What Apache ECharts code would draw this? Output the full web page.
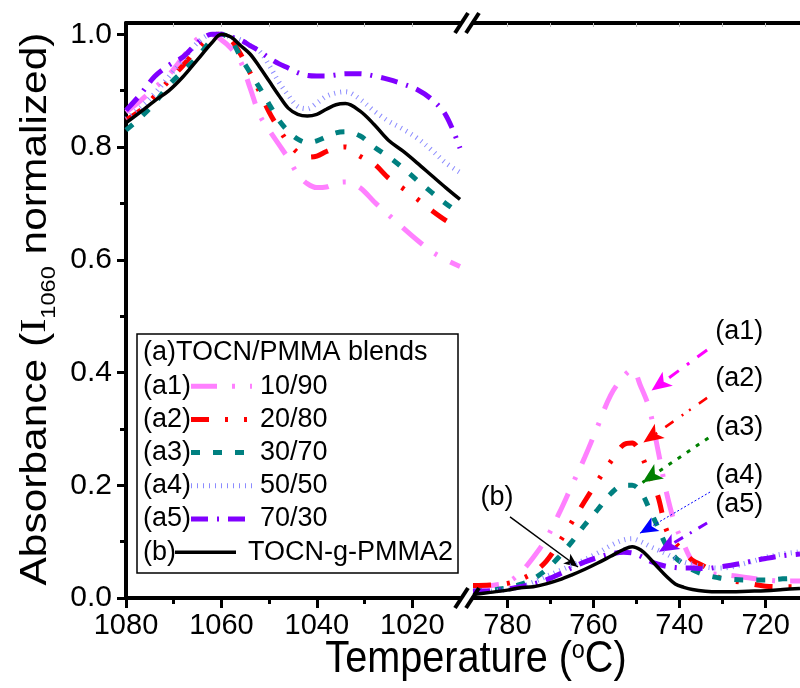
<!DOCTYPE html>
<html><head><meta charset="utf-8">
<script src="https://cdn.jsdelivr.net/npm/echarts@6/dist/echarts.min.js"></script>
<style>html,body{margin:0;padding:0;background:#fff}#c{width:800px;height:688px}</style>
</head><body><div id="c"></div>
<script>
// ---------- data ----------
const leftT  = [1080,1077,1074,1071,1068,1065,1062,1060,1058,1056,1054,1052,1050,1048,1046,1044,1042,1040,1038,1036,1034,1031,1028,1025,1022,1019,1016,1013,1010];
const a1L = [.862,.882,.905,.928,.960,.992,.999,.990,.975,.952,.905,.857,.830,.805,.780,.752,.735,.728,.729,.736,.738,.728,.703,.680,.657,.635,.615,.600,.588];
const a2L = [.848,.865,.890,.918,.945,.975,.997,1.0,.990,.965,.932,.898,.862,.833,.808,.790,.782,.784,.792,.798,.800,.784,.770,.745,.727,.708,.688,.670,.656];
const a3L = [.830,.852,.878,.910,.935,.960,.990,1.0,.990,.960,.932,.905,.876,.848,.828,.814,.808,.811,.818,.825,.827,.820,.800,.783,.763,.741,.720,.700,.682];
const a4L = [.850,.870,.895,.925,.955,.985,1.0,1.0,.995,.990,.980,.970,.945,.916,.892,.872,.868,.878,.890,.896,.898,.885,.864,.846,.832,.816,.795,.772,.755];
const a5L = [.865,.893,.925,.945,.960,.985,1.0,1.0,.995,.990,.980,.970,.958,.948,.940,.932,.927,.926,.926,.928,.930,.930,.926,.920,.912,.902,.885,.857,.798];
const bL  = [.843,.862,.882,.900,.925,.955,.985,1.0,.995,.980,.965,.942,.917,.892,.869,.858,.855,.858,.867,.875,.877,.864,.840,.812,.793,.772,.750,.728,.707];

const rightT = [788,784,780,777,774,771,768,765,762,759,756,753,751,749,747,745,743,741,739,737,734,731,728,724,720,716,712];
const a1R = [.020,.022,.028,.045,.072,.105,.150,.200,.250,.305,.360,.393,.405,.375,.335,.262,.186,.130,.095,.065,.046,.042,.040,.036,.032,.030,.030];
const a2R = [.022,.023,.026,.033,.045,.065,.098,.135,.172,.208,.242,.272,.275,.255,.218,.180,.120,.098,.082,.067,.055,.037,.031,.026,.021,.020,.020];
const a3R = [.012,.014,.018,.024,.034,.050,.073,.100,.130,.157,.185,.200,.200,.188,.158,.125,.092,.072,.060,.050,.041,.036,.033,.032,.032,.034,.035];
const a4R = [.010,.012,.015,.020,.028,.038,.048,.058,.068,.080,.093,.103,.105,.100,.092,.085,.078,.070,.064,.060,.055,.053,.055,.063,.072,.078,.082];
const a5R = [.012,.013,.016,.020,.025,.032,.042,.054,.064,.072,.078,.081,.080,.074,.066,.060,.056,.054,.053,.053,.052,.055,.058,.064,.070,.075,.078];
const bR  = [.006,.010,.014,.018,.020,.025,.032,.041,.051,.062,.074,.086,.091,.085,.071,.054,.038,.025,.019,.015,.012,.011,.011,.012,.013,.015,.017];

const xTicksL = [1080,1060,1040,1020];
const xMinorL = [1070,1050,1030];
const xTopL   = [1070,1060,1050,1040,1030,1020];
const xTicksR = [780,760,740,720];
const xMinorR = [770,750,730];
const xTopR   = [780,770,760,750,740,730,720];
const yTicks  = [0,0.2,0.4,0.6,0.8,1.0];
const yMinor  = [0.1,0.3,0.5,0.7,0.9];

const seriesCodes  = ['(a1)','(a2)','(a3)','(a4)','(a5)','(b)'];
const seriesLabels = ['10/90','20/80','30/70','50/50','70/30','TOCN-g-PMMA2'];
const legendTitle  = '(a)TOCN/PMMA blends';

// annotations (data coordinates of the right panel)
const annoFrom = [[733.6,0.440],[733.6,0.355],[733.3,0.284],[732.9,0.188],[733.6,0.133],[779.4,0.144]];
const annoTo   = [[746.5,0.368],[748.4,0.276],[748.6,0.205],[749.2,0.115],[744.8,0.082],[763.6,0.055]];
const annoText = [[726.1,0.473],[726.1,0.390],[726.1,0.303],[726.1,0.218],[726.1,0.165],[782.4,0.179]];

// ---------- styles ----------
const SANS = "'Liberation Sans', Arial, sans-serif";
const styles = [
  {color:'#ff80ff', width:5, dash:[26,15,3,15]},
  {color:'#ff0000', width:5, dash:[18,16,3,16,3,16]},
  {color:'#008080', width:5, dash:[9,13]},
  {color:'#8c8cff', width:5, dash:[1,5]},
  {color:'#8000ff', width:5, dash:[17,9,2,9]},
  {color:'#000000', width:3.5, dash:'solid'}
];
const annoStyles = [
  {color:'#ff00ff', width:3, dash:[12,10,3,10], size:[13,20]},
  {color:'#ff0000', width:2.5, dash:[10,10,2,7,2,10], size:[13,20]},
  {color:'#008000', width:3, dash:[4,7], size:[13,20]},
  {color:'#0000ff', width:1, dash:[2,2], size:[12,18]},
  {color:'#8000ff', width:3, dash:[10,8,2,8], size:[13,20]},
  {color:'#000000', width:1.5, dash:'solid', size:[9,14]}
];

const leftData = [a1L,a2L,a3L,a4L,a5L,bL];
const rightData = [a1R,a2R,a3R,a4R,a5R,bR];

const GL = {left:126, top:23, width:334, height:575};
const GR = {left:473, top:23, width:327, height:575};

function xAxesFor(gi, min, max, ticks, minor, top) {
  const base = {type:'value', gridIndex:gi, min:min, max:max, inverse:true, splitLine:{show:false}, minInterval:20, maxInterval:20};
  return [
    Object.assign({}, base, {position:'bottom',
      axisLine:{show:true, onZero:false, lineStyle:{color:'#000', width:4}},
      axisTick:{show:true, customValues:ticks, length:10, lineStyle:{color:'#000', width:3}},
      axisLabel:{show:true, customValues:ticks, formatter:v=>String(v), fontFamily:SANS, fontSize:29, color:'#000', margin:13}}),
    Object.assign({}, base, {position:'bottom',
      axisLine:{show:false, onZero:false},
      axisTick:{show:true, customValues:minor, length:6, lineStyle:{color:'#000', width:3}},
      axisLabel:{show:false}}),
    Object.assign({}, base, {position:'top',
      axisLine:{show:true, onZero:false, lineStyle:{color:'#000', width:4}},
      axisTick:{show:true, inside:true, customValues:top, length:4, lineStyle:{color:'#bbb', width:1}},
      axisLabel:{show:false}})
  ];
}

const series = [];
for (let i = 0; i < 6; i++) {
  const st = styles[i];
  const ls = {color:st.color, width:st.width, type:st.dash, cap:'butt'};
  series.push({
    type:'line', name:seriesCodes[i]+'L', xAxisIndex:0, yAxisIndex:0,
    data: leftT.map((t,k)=>[t, leftData[i][k]]),
    showSymbol:false, symbol:'none', smooth:0.35, lineStyle:ls, animation:false,
    emphasis:{disabled:true}, z: 2 + i
  });
  const a = annoStyles[i];
  series.push({
    type:'line', name:seriesCodes[i]+'R', xAxisIndex:3, yAxisIndex:2,
    data: rightT.map((t,k)=>[t, rightData[i][k]]),
    showSymbol:false, symbol:'none', smooth:0.35, lineStyle:ls, animation:false,
    emphasis:{disabled:true}, z: 2 + i,
    markLine:{silent:true, animation:false, symbol:['none','arrow'], symbolSize:a.size,
      label:{show:false}, emphasis:{disabled:true},
      lineStyle:{color:a.color, width:a.width, type:a.dash, cap:'butt'},
      data:[[{coord:annoFrom[i]},{coord:annoTo[i]}]]},
    markPoint:{silent:true, animation:false, symbol:'rect', symbolSize:0,
      label:{show:true, position:'inside', formatter:()=>seriesCodes[i], color:'#000', fontFamily:SANS, fontSize:27},
      data:[{coord:annoText[i]}]}
  });
}

// legend (drawn as graphic, custom layout like the original)
const LG = {x:137, y:334, w:321, h:239, textX:143, rowY0:353, rowGap:33.2};
const legendChildren = [
  {type:'rect', shape:{x:LG.x, y:LG.y, width:LG.w, height:LG.h}, style:{fill:'#fff', stroke:'#000', lineWidth:1.5}},
  {type:'text', x:LG.textX, y:LG.rowY0, style:{text:legendTitle, fontFamily:SANS, fontSize:27, fill:'#000', align:'left', verticalAlign:'middle'}}
];
for (let i = 0; i < 6; i++) {
  const ry = LG.rowY0 + (i+1)*LG.rowGap;
  const st = styles[i];
  const isB = i === 5;
  const x1 = isB ? 175 : 191, x2 = isB ? 236 : 252, tx = isB ? 248 : 260;
  legendChildren.push({type:'text', x:LG.textX, y:ry, style:{text:seriesCodes[i], fontFamily:SANS, fontSize:27, fill:'#000', align:'left', verticalAlign:'middle'}});
  legendChildren.push({type:'line', shape:{x1:x1, y1:ry, x2:x2, y2:ry}, style:{stroke:st.color, lineWidth:st.width, lineDash: st.dash === 'solid' ? null : st.dash, lineCap:'butt'}});
  legendChildren.push({type:'text', x:tx, y:ry, style:{text:seriesLabels[i], fontFamily:SANS, fontSize:27, fill:'#000', align:'left', verticalAlign:'middle'}});
}

// axis break marks
const gapL = GL.left + GL.width, gapR = GR.left;
const breakLines = [];
[GL.top, GL.top + GL.height].forEach(yc => {
  [gapL - 5, gapR - 7].forEach(xc => {
    breakLines.push({type:'line', shape:{x1:xc, y1:yc+10, x2:xc+13, y2:yc-10}, style:{stroke:'#000', lineWidth:4, lineCap:'butt'}, z:100});
  });
});

const option = {
  backgroundColor:'#fff',
  animation:false,
  grid:[Object.assign({outerBoundsMode:'none', containLabel:false}, GL), Object.assign({outerBoundsMode:'none', containLabel:false}, GR)],
  xAxis: [].concat(xAxesFor(0, 1010, 1080, xTicksL, xMinorL, xTopL), xAxesFor(1, 712, 788, xTicksR, xMinorR, xTopR)),
  yAxis: [
    {type:'value', gridIndex:0, min:0, max:1.02, position:'left', splitLine:{show:false},
      axisLine:{show:true, onZero:false, lineStyle:{color:'#000', width:4}},
      axisTick:{show:true, customValues:yTicks, length:9, lineStyle:{color:'#000', width:3}},
      axisLabel:{show:true, customValues:yTicks, formatter:v=>v.toFixed(1), fontFamily:SANS, fontSize:30, color:'#000', margin:14}},
    {type:'value', gridIndex:0, min:0, max:1.02, position:'left', splitLine:{show:false},
      axisLine:{show:false, onZero:false},
      axisTick:{show:true, customValues:yMinor, length:6, lineStyle:{color:'#000', width:3}},
      axisLabel:{show:false}},
    {type:'value', gridIndex:1, min:0, max:1.02, show:false, splitLine:{show:false}}
  ],
  series: series,
  graphic: [
    {type:'group', children:legendChildren, z:50},
    {type:'group', children:breakLines, z:100},
    {type:'text', x:36, y:309, rotation:Math.PI/2, scaleX:1.18, z:50, style:{
      text:'{a|Absorbance (}{i|I}{s|1060}{a| normalized)}',
      rich:{a:{fontFamily:SANS, fontSize:36, fill:'#000'}, i:{fontFamily:"'Liberation Serif', serif", fontSize:36, fill:'#000'},
            s:{fontFamily:SANS, fontSize:20, fill:'#000', verticalAlign:'bottom', lineHeight:46}},
      align:'center', verticalAlign:'middle'}},
    {type:'text', x:476, y:660, scaleX:0.9, z:50, style:{
      text:'{a|Temperature (}{o|o}{a|C)}',
      rich:{a:{fontFamily:SANS, fontSize:44, fill:'#000'}, o:{fontFamily:SANS, fontSize:26, fill:'#000', verticalAlign:'top'}},
      align:'center', verticalAlign:'middle'}}
  ]
};
const chart = echarts.init(document.getElementById('c'));
chart.setOption(option);
</script>
</body></html>
